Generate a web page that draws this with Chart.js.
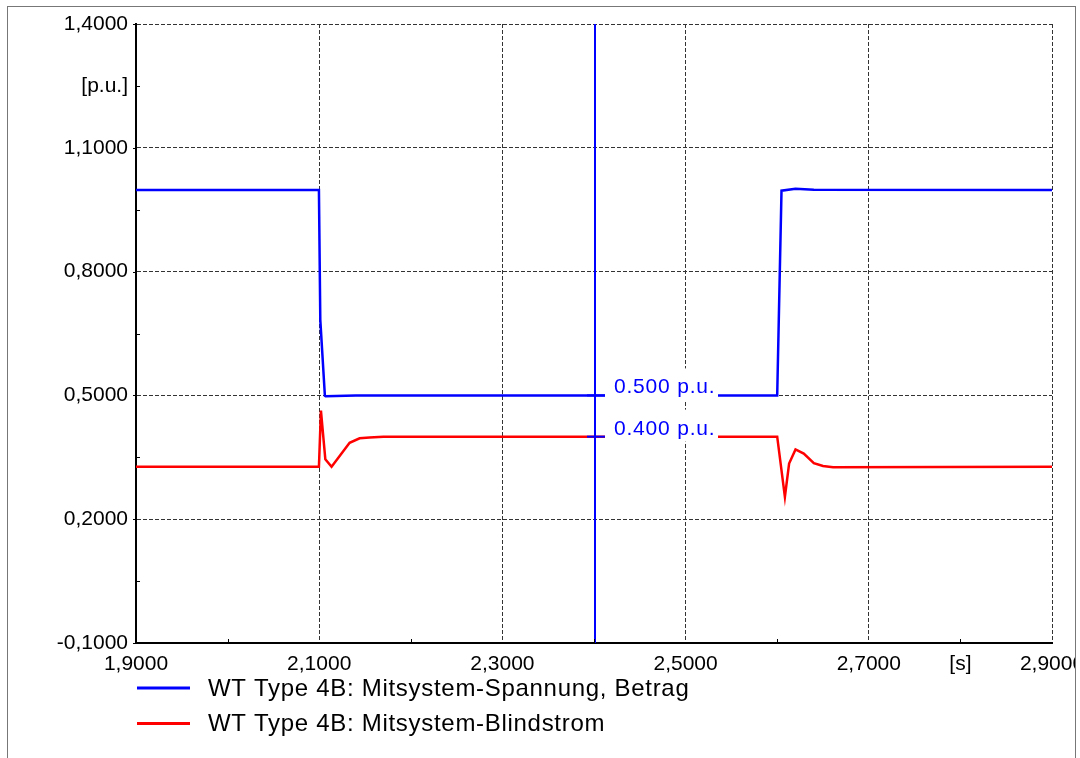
<!DOCTYPE html>
<html>
<head>
<meta charset="utf-8">
<script src="https://cdn.jsdelivr.net/npm/chart.js@4.4.1/dist/chart.umd.min.js"></script>
<style>
  html, body { margin: 0; padding: 0; background: #ffffff; }
  canvas { display: block; }
</style>
</head>
<body>
<canvas id="c" width="1080" height="758" style="width:1080px;height:758px"></canvas>
<script>
// Series names and colours
const seriesLabels = ['WT Type 4B: Mitsystem-Spannung, Betrag', 'WT Type 4B: Mitsystem-Blindstrom'];
const seriesColors = ['#0000ff', '#ff0000'];

// Positive-sequence voltage magnitude [p.u.] over time [s]
const voltageTime  = [1.9, 2.0997, 2.1012, 2.1062, 2.107, 2.14, 2.6, 2.6047, 2.62, 2.64, 2.9];
const voltageValue = [0.998, 0.998, 0.683, 0.499, 0.498, 0.5, 0.5, 0.996, 1.0005, 0.9985, 0.998];

// Positive-sequence reactive current [p.u.] over time [s]
const currentTime  = [1.9, 2.0997, 2.1019, 2.1067, 2.1135, 2.1332, 2.1441, 2.155, 2.17, 2.2, 2.6, 2.6084, 2.613, 2.620, 2.629, 2.640, 2.650, 2.661, 2.9];
const currentValue = [0.327, 0.327, 0.463, 0.345, 0.327, 0.385, 0.396, 0.398, 0.3995, 0.4, 0.4, 0.254, 0.335, 0.369, 0.359, 0.336, 0.329, 0.326, 0.327];

// Axis ticks and their labels ('' = minor tick)
const xTicks = [1.9, 2.0, 2.1, 2.2, 2.3, 2.4, 2.5, 2.6, 2.7, 2.8, 2.9];
const xTickLabels = ['1,9000', '', '2,1000', '', '2,3000', '', '2,5000', '', '2,7000', '[s]', '2,9000'];
const yTicks = [-0.1, 0.05, 0.2, 0.35, 0.5, 0.65, 0.8, 0.95, 1.1, 1.25, 1.4];
const yTickLabels = ['-0,1000', '', '0,2000', '', '0,5000', '', '0,8000', '', '1,1000', '[p.u.]', '1,4000'];

// Cursor position [s]
const cursorTime = 2.4;

const FONT = "'Liberation Sans', Arial, sans-serif";
const isMajor = (lbl) => /\d/.test(lbl);

function toPoints(ts, vs) { return ts.map((t, i) => ({ x: t, y: vs[i] })); }
function interp(ts, vs, t) {
  for (let i = 0; i < ts.length - 1; i++) {
    if (t >= ts[i] && t <= ts[i + 1]) {
      const f = (t - ts[i]) / (ts[i + 1] - ts[i]);
      return vs[i] + f * (vs[i + 1] - vs[i]);
    }
  }
  return vs[vs.length - 1];
}
const seriesSource = [[voltageTime, voltageValue], [currentTime, currentValue]];

// Small tick marks on the axes
const tickMarks = {
  id: 'tickMarks',
  afterDraw(chart) {
    const { ctx, chartArea: a, scales: { x, y } } = chart;
    ctx.save();
    ctx.strokeStyle = '#000';
    ctx.lineWidth = 1;
    xTicks.forEach((v, i) => {
      if (isMajor(xTickLabels[i])) return;
      const px = Math.round(x.getPixelForValue(v)) + 0.5;
      ctx.beginPath(); ctx.moveTo(px, a.bottom); ctx.lineTo(px, a.bottom - 4); ctx.stroke();
    });
    yTicks.forEach((v, i) => {
      const py = Math.round(y.getPixelForValue(v)) + 0.5;
      ctx.beginPath();
      if (isMajor(yTickLabels[i])) { ctx.moveTo(a.left - 3, py); ctx.lineTo(a.left, py); }
      else { ctx.moveTo(a.left, py); ctx.lineTo(a.left + 4, py); }
      ctx.stroke();
    });
    ctx.restore();
  }
};

// Vertical cursor with value read-outs
const cursorPlugin = {
  id: 'cursor',
  afterDatasetsDraw(chart) {
    const { ctx, chartArea: a, scales: { x, y } } = chart;
    const px = Math.round(x.getPixelForValue(cursorTime)) + 1;
    ctx.save();
    const rows = seriesSource.map(([ts, vs]) => {
      const v = interp(ts, vs, cursorTime);
      return { v, py: y.getPixelForValue(v) };
    });
    rows.forEach(r => {
      ctx.fillStyle = '#ffffff';
      ctx.fillRect(px + 10, r.py - 27, 113, 32);
    });
    ctx.strokeStyle = '#0000ff';
    ctx.lineWidth = 2;
    ctx.beginPath(); ctx.moveTo(px, a.top); ctx.lineTo(px, a.bottom); ctx.stroke();
    rows.forEach(r => {
      ctx.beginPath(); ctx.moveTo(px - 8, r.py); ctx.lineTo(px + 10, r.py); ctx.stroke();
    });
    ctx.fillStyle = '#0000ff';
    ctx.font = '21px ' + FONT;
    ctx.letterSpacing = '0.8px';
    ctx.textAlign = 'left';
    ctx.textBaseline = 'alphabetic';
    rows.forEach(r => {
      ctx.fillText(r.v.toFixed(3) + ' p.u.', px + 19, r.py - 2);
    });
    ctx.restore();
  }
};

// Legend below the axis and outer frame
const legendFrame = {
  id: 'legendFrame',
  afterDraw(chart) {
    const { ctx, chartArea: a } = chart;
    ctx.save();
    chart.data.datasets.forEach((ds, i) => {
      const ly = 688 + i * 35.5;
      ctx.strokeStyle = ds.borderColor;
      ctx.lineWidth = 3;
      ctx.beginPath(); ctx.moveTo(a.left + 1, ly); ctx.lineTo(190, ly); ctx.stroke();
      ctx.fillStyle = '#000';
      ctx.font = '24px ' + FONT;
      ctx.letterSpacing = '0.7px';
      ctx.textAlign = 'left';
      ctx.textBaseline = 'middle';
      ctx.fillText(ds.label, 208, ly + 1);
    });
    ctx.letterSpacing = '0px';
    ctx.fillStyle = '#ffffff';
    ctx.fillRect(1076, 0, 4, 758);
    ctx.strokeStyle = '#777777';
    ctx.lineWidth = 1;
    ctx.strokeRect(7.5, 6.5, 1068, 760);
    ctx.restore();
  }
};

const gridColor = (labels) => (c) => {
  const i = c.index;
  if (i === 0) return 'rgba(0,0,0,0)';
  return isMajor(labels[i] || '') ? '#333333' : 'rgba(0,0,0,0)';
};

new Chart(document.getElementById('c'), {
  type: 'line',
  data: {
    datasets: seriesSource.map(([ts, vs], i) => ({
      label: seriesLabels[i],
      data: toPoints(ts, vs),
      borderColor: seriesColors[i],
      backgroundColor: seriesColors[i],
      borderWidth: 2.5,
      pointRadius: 0,
      tension: 0,
      fill: false
    }))
  },
  options: {
    responsive: false,
    animation: false,
    devicePixelRatio: 1,
    layout: { padding: { left: 0, top: 24, right: 28, bottom: 75 } },
    plugins: { legend: { display: false }, tooltip: { enabled: false } },
    scales: {
      x: {
        type: 'linear',
        min: 1.9, max: 2.9,
        afterBuildTicks: (s) => { s.ticks = xTicks.map(v => ({ value: v })); },
        afterFit: (s) => { s.height = 40; s.paddingLeft = 0; s.paddingRight = 0; },
        ticks: {
          autoSkip: false, maxRotation: 0, minRotation: 0, padding: 9,
          color: '#000', font: { family: FONT, size: 21 },
          callback: (v, i) => xTickLabels[i]
        },
        grid: { drawTicks: false, color: gridColor(xTickLabels), lineWidth: 1 },
        border: { display: true, color: '#000', width: 2, dash: [4, 2] }
      },
      y: {
        type: 'linear',
        min: -0.1, max: 1.4,
        afterBuildTicks: (s) => { s.ticks = yTicks.map(v => ({ value: v })); },
        afterFit: (s) => { s.width = 136; },
        ticks: {
          autoSkip: false, padding: 8,
          color: '#000', font: { family: FONT, size: 21 },
          callback: (v, i) => yTickLabels[i]
        },
        grid: { drawTicks: false, color: gridColor(yTickLabels), lineWidth: 1 },
        border: { display: true, color: '#000', width: 2, dash: [4, 2] }
      }
    }
  },
  plugins: [tickMarks, cursorPlugin, legendFrame]
});
</script>
</body>
</html>
